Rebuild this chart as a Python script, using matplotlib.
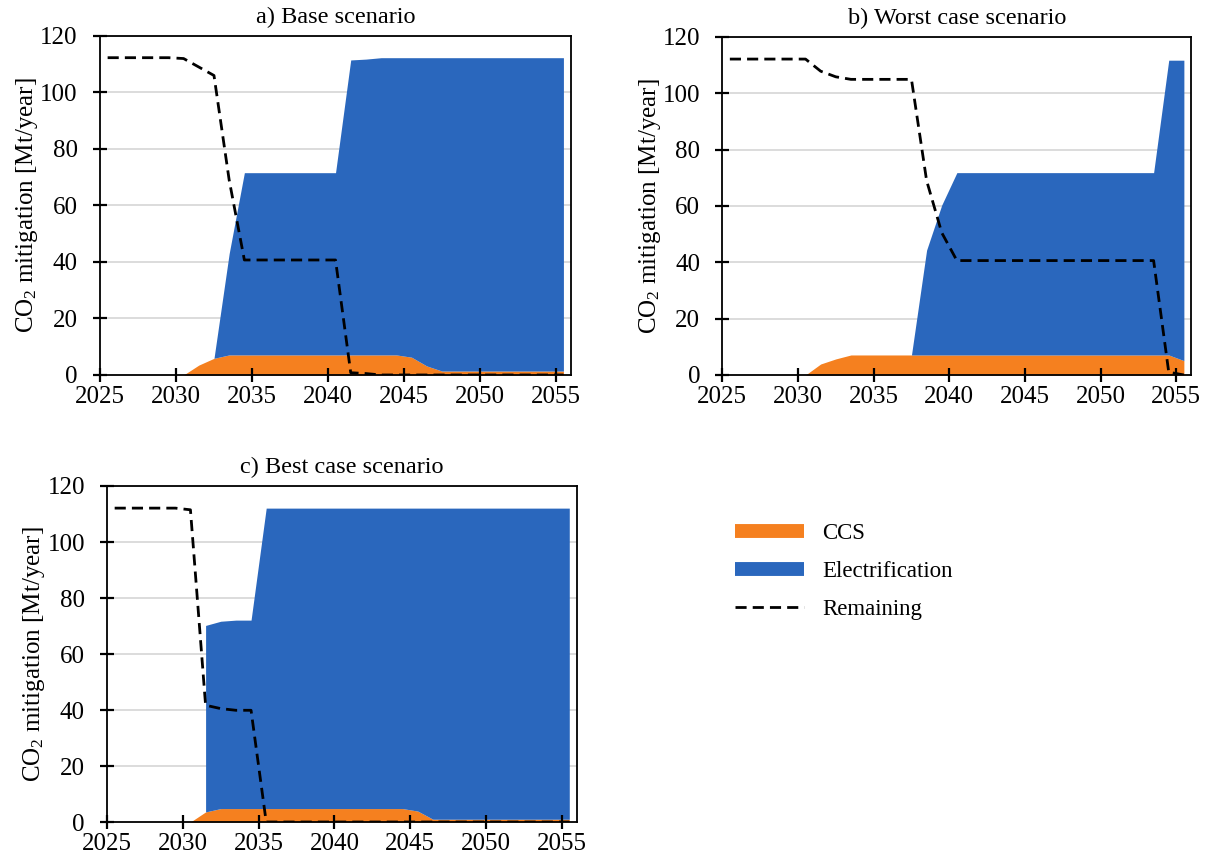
import numpy as np
import matplotlib
matplotlib.use("Agg")
import matplotlib.pyplot as plt
from matplotlib.lines import Line2D

plt.rcParams['font.family'] = ['Liberation Serif', 'DejaVu Serif']
plt.rcParams['mathtext.fontset'] = 'custom'
plt.rcParams['mathtext.rm'] = 'Liberation Serif'
plt.rcParams['mathtext.it'] = 'Liberation Serif:italic'
plt.rcParams['font.size'] = 18

# years 2025..2055, values in Mt CO2 per year
years = np.arange(2025, 2056)

ccs_base = [0, 0, 0, 0, 0, 0, 3.5, 5.9, 7.1, 7.1, 7.1, 7.1, 7.1, 7.1, 7.1, 7.1,
            7.1, 7.1, 7.1, 7.1, 6.3, 3.2, 1.4, 1.4, 1.4, 1.4, 1.4, 1.4, 1.4, 1.4, 1.4]
elec_base = [0, 0, 0, 0, 0, 0, 0, 0, 35.9, 64.5, 64.5, 64.5, 64.5, 64.5, 64.5, 64.5,
             104.4, 104.7, 105.2, 105.2, 106.0, 109.1, 110.9, 110.9, 110.9, 110.9,
             110.9, 110.9, 110.9, 110.9, 110.9]
rem_base = [112.3, 112.3, 112.3, 112.3, 112.3, 112.0, 109.0, 106.0, 69.0, 40.7,
            40.7, 40.7, 40.7, 40.7, 40.7, 40.7, 0.8, 0.5, 0, 0, 0, 0, 0, 0, 0, 0,
            0, 0, 0, 0, 0]

ccs_worst = [0, 0, 0, 0, 0, 0, 3.9, 5.7, 7.1, 7.1, 7.1, 7.1, 7.1, 7.1, 7.1, 7.1,
             7.1, 7.1, 7.1, 7.1, 7.1, 7.1, 7.1, 7.1, 7.1, 7.1, 7.1, 7.1, 7.1, 7.1, 5.1]
elec_worst = [0, 0, 0, 0, 0, 0, 0, 0, 0, 0, 0, 0, 0, 37.2, 53.2, 64.7, 64.7, 64.7,
              64.7, 64.7, 64.7, 64.7, 64.7, 64.7, 64.7, 64.7, 64.7, 64.7, 64.7,
              104.6, 106.6]
rem_worst = [112.1, 112.1, 112.1, 112.1, 112.1, 112.1, 107.8, 105.8, 104.9, 104.9,
             104.9, 104.9, 104.9, 69.0, 50.5, 40.6, 40.6, 40.6, 40.6, 40.6, 40.6,
             40.6, 40.6, 40.6, 40.6, 40.6, 40.6, 40.6, 40.6, 1.0, 0]

ccs_best = [0, 0, 0, 0, 0, 0, 3.6, 4.8, 4.8, 4.8, 4.8, 4.8, 4.8, 4.8, 4.8, 4.8,
            4.8, 4.8, 4.8, 4.8, 3.9, 1.0, 1.0, 1.0, 1.0, 1.0, 1.0, 1.0, 1.0, 1.0, 1.0]
elec_best = [0, 0, 0, 0, 0, 0, 66.6, 66.9, 67.3, 67.3, 107.3, 107.3, 107.3, 107.3,
             107.3, 107.3, 107.3, 107.3, 107.3, 107.3, 108.2, 111.1, 111.1, 111.1,
             111.1, 111.1, 111.1, 111.1, 111.1, 111.1, 111.1]
rem_best = [112.1, 112.1, 112.1, 112.1, 112.1, 111.5, 41.7, 40.5, 39.9, 39.9, 0, 0,
            0, 0, 0, 0, 0, 0, 0, 0, 0, 0, 0, 0, 0, 0, 0, 0, 0, 0, 0]

titles = ['a) Base scenario', 'b) Worst case scenario', 'c) Best case scenario']
scenarios = [(ccs_base, elec_base, rem_base),
             (ccs_worst, elec_worst, rem_worst),
             (ccs_best, elec_best, rem_best)]

c_ccs = '#F5801F'
c_elec = '#2A67BD'
dash = (4, 2.2)

fig = plt.figure(figsize=(12.17, 8.66), dpi=100)
boxes = [[0.0822, 0.567, 0.387, 0.3915],
         [0.5935, 0.567, 0.3855, 0.3905],
         [0.0880, 0.0508, 0.386, 0.388]]

# points sit in the middle of each year
x = years + 0.5
yticks = range(0, 121, 20)

for box, title, (ccs, elec, rem) in zip(boxes, titles, scenarios):
    ax = fig.add_axes(box)
    ax.set_axisbelow(False)
    ccs = np.array(ccs)
    elec = np.array(elec)
    # grid drawn by hand so the tick marks can stay on top of the areas
    for yv in yticks[1:]:
        ax.axhline(yv, color='#d9d9d9', lw=1.3, zorder=0.5)
    ax.fill_between(x, 0, ccs, color=c_ccs, lw=0, zorder=1)
    ax.fill_between(x, ccs, ccs + elec, where=(ccs + elec) > 0, color=c_elec,
                    lw=0, zorder=1)
    ax.plot(x, rem, color='black', lw=2.0, dashes=dash, zorder=3)

    ax.set_xlim(2025, 2056)
    ax.set_ylim(0, 120)
    ax.set_xticks(range(2025, 2056, 5))
    ax.set_yticks(yticks)
    ax.tick_params(direction='inout', length=10, width=1.6, color='black')
    ax.tick_params(axis='y', pad=11)
    ax.tick_params(axis='x', pad=3)
    for s in ax.spines.values():
        s.set_linewidth(1.3)
        s.set_zorder(4)
    ax.set_title(title, pad=9, fontsize=17.5)
    ax.set_ylabel(r'CO$_2$ mitigation [Mt/year]', labelpad=0)

handles = [Line2D([], [], color=c_ccs, lw=10, solid_capstyle='butt'),
           Line2D([], [], color=c_elec, lw=10, solid_capstyle='butt'),
           Line2D([], [], color='black', lw=2.0, dashes=dash)]
fig.legend(handles, ['CCS', 'Electrification', 'Remaining'],
           loc='upper left', bbox_to_anchor=(0.587, 0.42), frameon=False,
           fontsize=16.5, handlelength=3.0, handletextpad=0.8, labelspacing=0.75)

fig.savefig('out.png', dpi=100)
